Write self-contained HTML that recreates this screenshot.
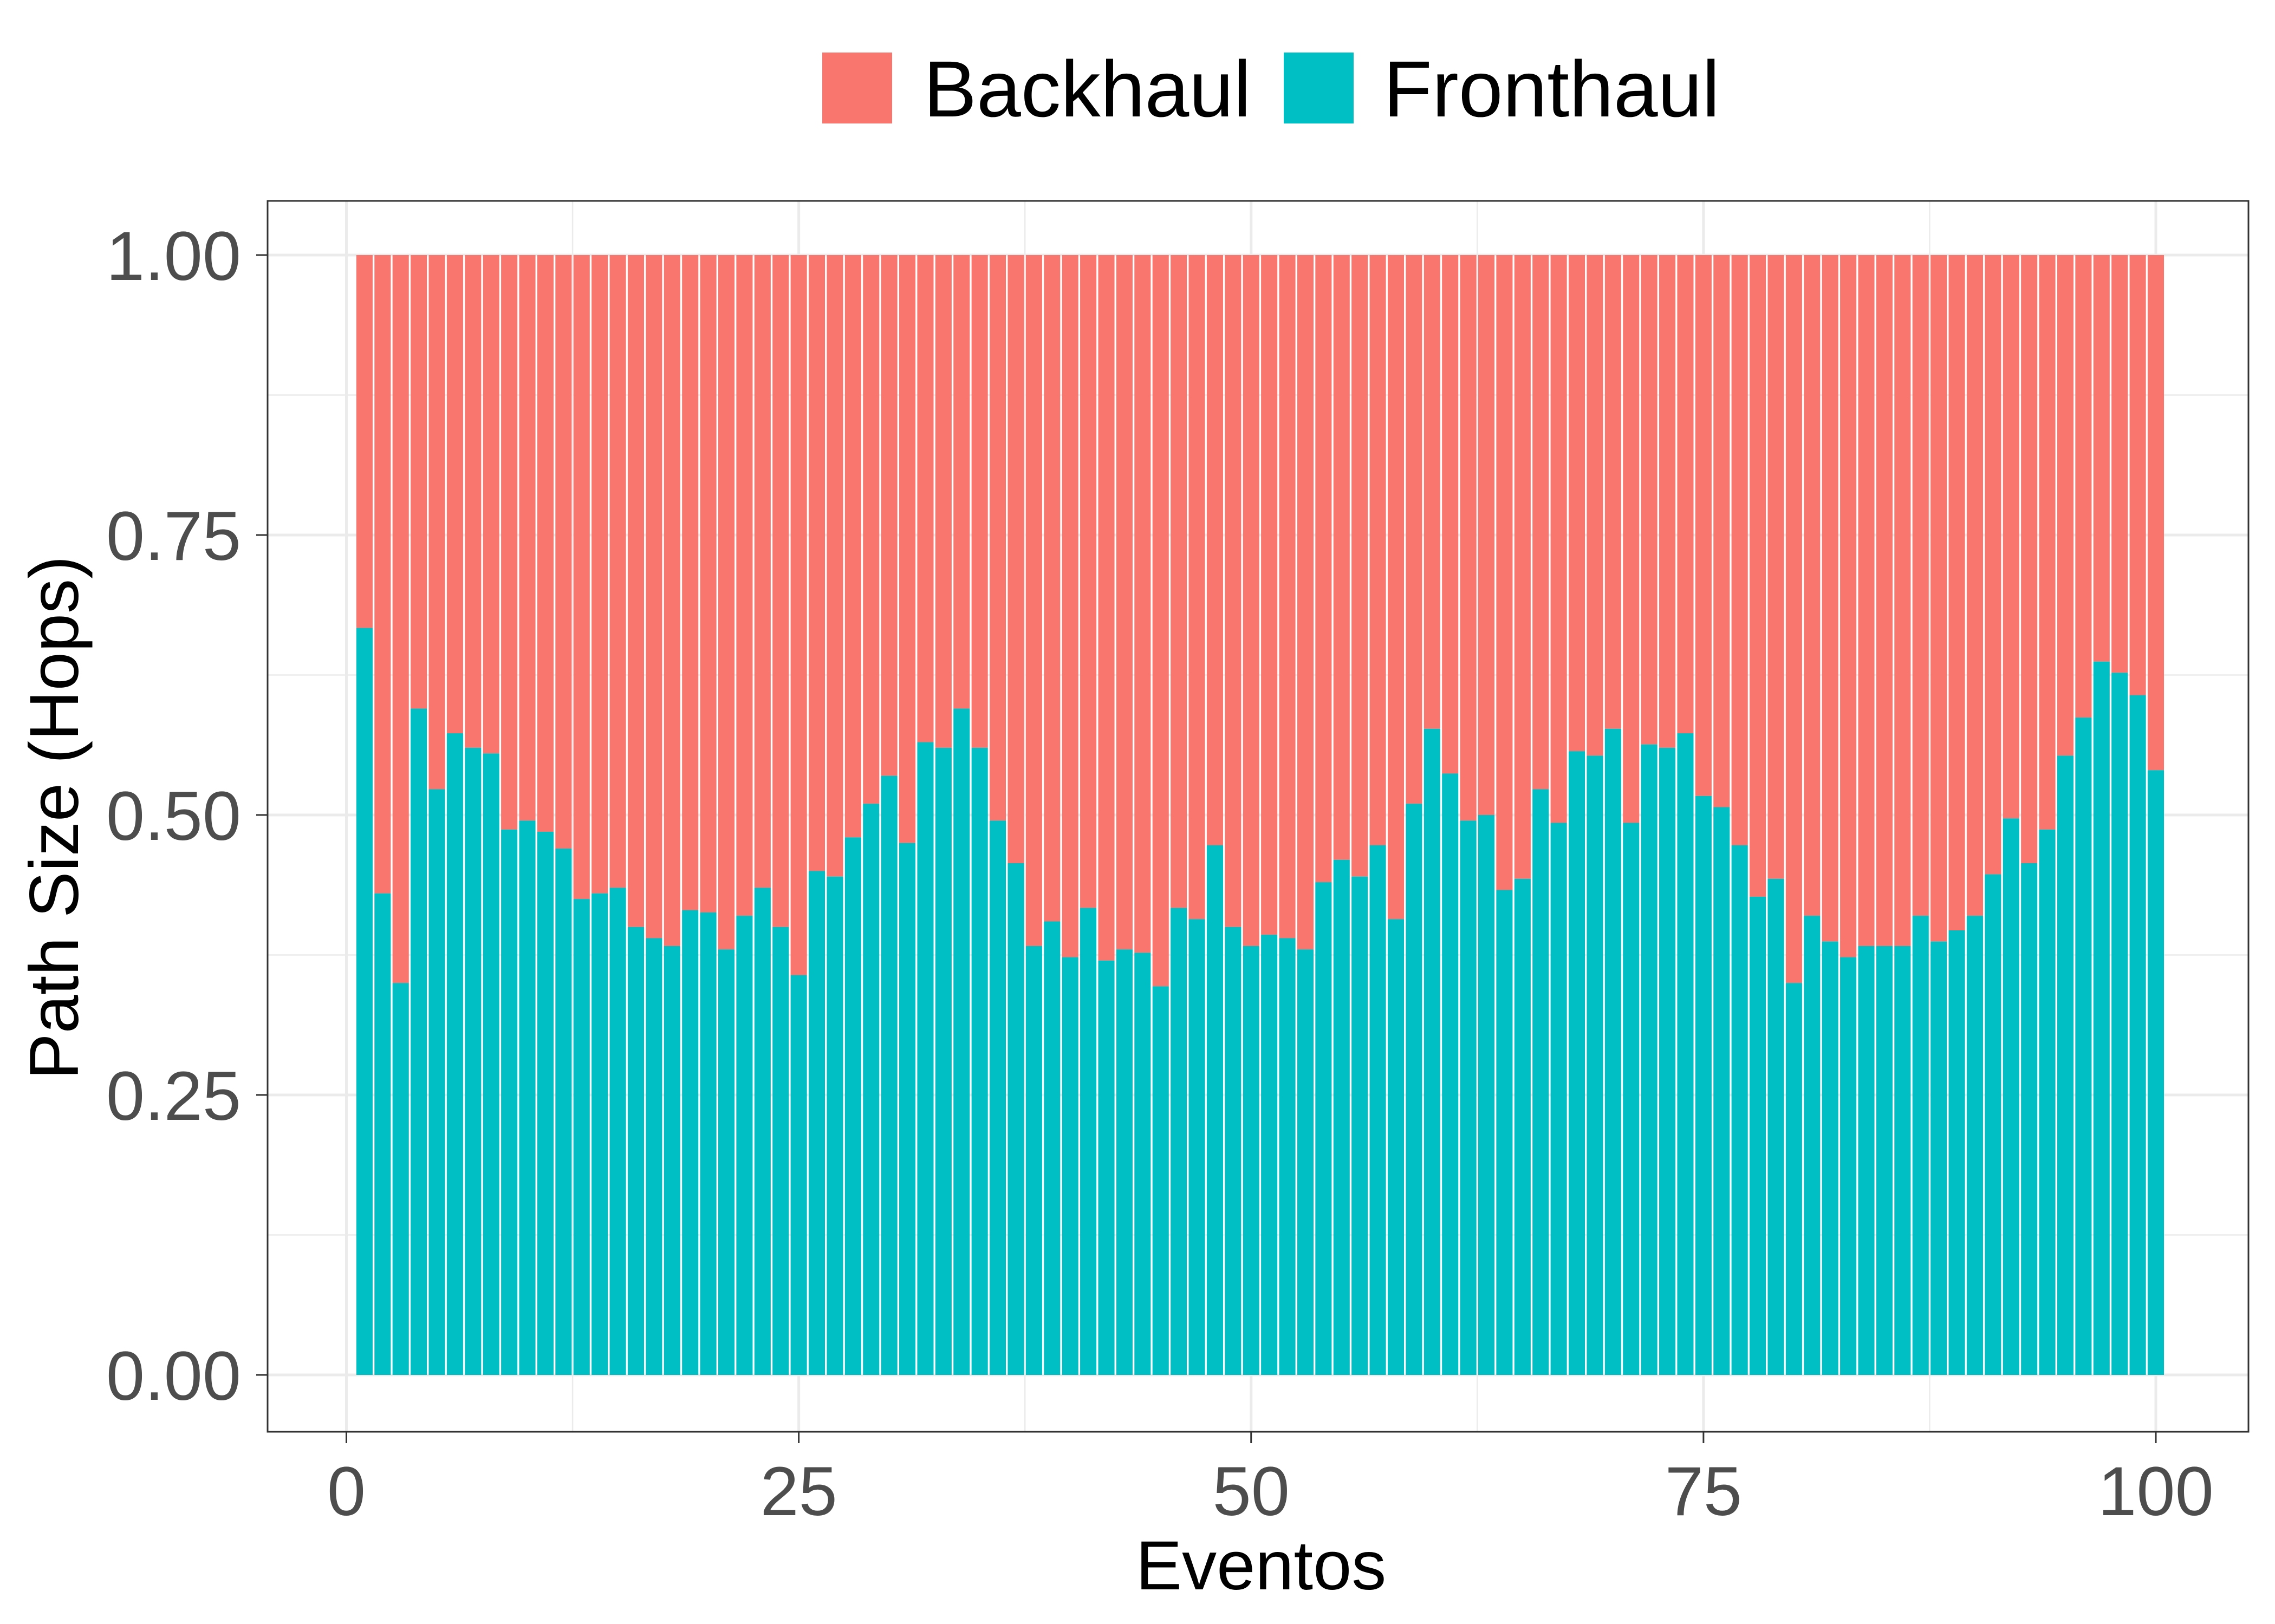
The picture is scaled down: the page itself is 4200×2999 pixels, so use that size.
<!DOCTYPE html>
<html><head><meta charset="utf-8"><style>
html,body{margin:0;padding:0;background:#fff}
svg{display:block;font-family:"Liberation Sans",Arial,sans-serif}
</style></head><body>
<svg id="chart" width="4200" height="2999" viewBox="0 0 4200 2999">
<rect x="0" y="0" width="4200" height="2999" fill="#fff"/>
<g id="grid"></g>
<g id="bars"></g>
<rect x="494" y="371" width="3657" height="2273" fill="none" stroke="#333" stroke-width="3"/>
<g id="axes"></g>
<text x="2328" y="2935" font-size="128" text-anchor="middle" fill="#000">Eventos</text>
<text transform="translate(144,1510) rotate(-90)" font-size="128" text-anchor="middle" fill="#000">Path Size (Hops)</text>
<g>
<rect x="1518" y="97" width="129" height="131" fill="#F8766D"/>
<text x="1705" y="215" font-size="147" fill="#000">Backhaul</text>
<rect x="2370" y="97" width="129" height="131" fill="#00BFC4"/>
<text x="2554" y="215" font-size="147" fill="#000">Fronthaul</text>
</g>
</svg>
<script>
const fronthaul=[0.667,0.43,0.35,0.595,0.523,0.573,0.56,0.555,0.487,0.495,0.485,0.47,0.425,0.43,0.435,0.40,0.39,0.383,0.415,0.413,0.38,0.41,0.435,0.40,0.357,0.45,0.445,0.48,0.51,0.535,0.475,0.565,0.56,0.595,0.56,0.495,0.457,0.383,0.405,0.373,0.417,0.37,0.38,0.377,0.347,0.417,0.407,0.473,0.40,0.383,0.393,0.39,0.38,0.44,0.46,0.445,0.473,0.407,0.51,0.577,0.537,0.495,0.5,0.433,0.443,0.523,0.493,0.557,0.553,0.577,0.493,0.563,0.56,0.573,0.517,0.507,0.473,0.427,0.443,0.35,0.41,0.387,0.373,0.383,0.383,0.383,0.41,0.387,0.397,0.41,0.447,0.497,0.457,0.487,0.553,0.587,0.637,0.627,0.607,0.54];
const xTicks=[0,25,50,75,100];
const yTicks=[0,0.25,0.5,0.75,1];
const yTickLabels=["0.00","0.25","0.50","0.75","1.00"];
const NS="http://www.w3.org/2000/svg";
const X=v=>639.5+(3980-639.5)*v/100;
const Y=v=>2539+(471-2539)*v;
function mk(tag,attrs,parent){const e=document.createElementNS(NS,tag);for(const k in attrs)e.setAttribute(k,attrs[k]);parent.appendChild(e);return e;}
const grid=document.getElementById('grid'),bars=document.getElementById('bars'),axes=document.getElementById('axes');
for(let i=0;i<yTicks.length-1;i++){const v=(yTicks[i]+yTicks[i+1])/2;
const l=mk('line',{x1:494,x2:4151,y1:Y(v),y2:Y(v),stroke:'#ebebeb','stroke-width':2.5},grid);

}
for(let i=0;i<xTicks.length-1;i++){const v=(xTicks[i]+xTicks[i+1])/2;
const l=mk('line',{x1:X(v),x2:X(v),y1:371,y2:2644,stroke:'#ebebeb','stroke-width':2.5},grid);

}
yTicks.forEach((v,i)=>{
const l=mk('line',{x1:494,x2:4151,y1:Y(v),y2:Y(v),stroke:'#ebebeb','stroke-width':5},grid);


const t=mk('line',{x1:473,x2:494,y1:Y(v),y2:Y(v),stroke:'#333','stroke-width':3},axes);


const tx=mk('text',{x:445,y:Y(v)+46,'font-size':128,'text-anchor':'end',fill:'#4d4d4d'},axes);
tx.textContent=yTickLabels[i];


});
xTicks.forEach(v=>{
const l=mk('line',{x1:X(v),x2:X(v),y1:371,y2:2644,stroke:'#ebebeb','stroke-width':5},grid);


const t=mk('line',{x1:X(v),x2:X(v),y1:2644,y2:2665,stroke:'#333','stroke-width':3},axes);


const tx=mk('text',{x:X(v),y:2798,'font-size':128,'text-anchor':'middle',fill:'#4d4d4d'},axes);
tx.textContent=String(v);


});
const bw=(X(1)-X(0))*0.9;
fronthaul.forEach((f,i)=>{
const x=X(i+1)-bw/2;
const b=mk('rect',{x:x,y:Y(1),width:bw,height:Y(f)-Y(1),fill:'#F8766D'},bars);


const r=mk('rect',{x:x,y:Y(f),width:bw,height:Y(0)-Y(f),fill:'#00BFC4'},bars);


});
</script>
</body></html>
